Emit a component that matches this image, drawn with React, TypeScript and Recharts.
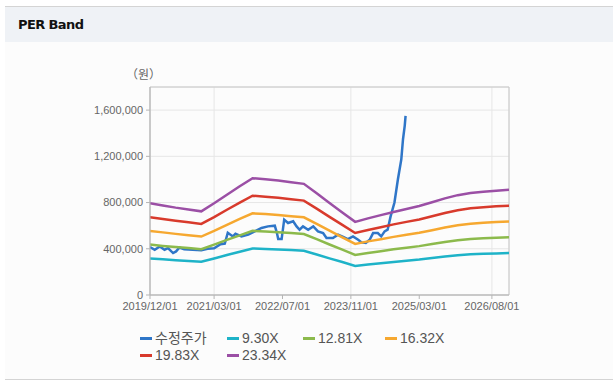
import React from "react";
import {
  LineChart,
  Line,
  XAxis,
  YAxis,
  CartesianGrid,
  Legend,
  ReferenceArea,
} from "recharts";

// x axis is months counted from 2019/12
const tickMonths = [0, 15, 31, 47, 63, 80];
const tickLabels = ["2019/12/01", "2021/03/01", "2022/07/01", "2023/11/01", "2025/03/01", "2026/08/01"];
const yTicks = [0, 400000, 800000, 1200000, 1600000];

const bandMonths = [0, 3, 6, 9, 12, 15, 18, 21, 24, 27, 30, 33, 36, 39, 42, 45, 48, 51, 54, 57, 60, 63, 66, 69, 72, 75, 78, 81, 84];
const band930 = [316000, 309000, 301000, 295000, 288000, 316000, 346000, 375000, 403000, 399000, 394000, 389000, 383000, 351000, 317000, 285000, 252000, 264000, 275000, 286000, 297000, 307000, 320000, 333000, 344000, 352000, 356000, 360000, 363000];
const band1281 = [436000, 425000, 415000, 406000, 397000, 436000, 477000, 516000, 555000, 550000, 543000, 536000, 528000, 483000, 437000, 392000, 347000, 364000, 379000, 395000, 409000, 423000, 441000, 459000, 474000, 484000, 491000, 496000, 500000];
const band1632 = [555000, 542000, 529000, 517000, 506000, 555000, 607000, 658000, 707000, 700000, 692000, 682000, 672000, 615000, 557000, 499000, 442000, 464000, 483000, 503000, 521000, 539000, 561000, 584000, 604000, 617000, 625000, 632000, 637000];
const band1983 = [674000, 658000, 643000, 629000, 615000, 674000, 738000, 799000, 859000, 851000, 841000, 829000, 817000, 748000, 676000, 607000, 537000, 563000, 587000, 611000, 633000, 654000, 682000, 710000, 734000, 750000, 760000, 767000, 773000];
const band2334 = [794000, 775000, 756000, 740000, 724000, 794000, 868000, 941000, 1011000, 1001000, 990000, 976000, 962000, 880000, 796000, 714000, 633000, 663000, 691000, 719000, 745000, 770000, 803000, 836000, 864000, 882000, 894000, 903000, 910000];

const priceMonths = [0, 1.1, 2.3, 3.4, 4.2, 5.4, 6.1, 6.9, 8, 10, 12, 13.5, 15, 16.5, 17.5, 18.2, 19.4, 20, 21.4, 23, 24.5, 26.1, 27.6, 29.2, 29.7, 30, 30.8, 31.4, 32.3, 33.5, 34.3, 35, 35.8, 37, 38.2, 39.3, 40.5, 41.3, 42.8, 44, 45.2, 46.3, 47.5, 48.7, 49.5, 50.5, 51.4, 52.2, 53.3, 54.1, 54.9, 55.6, 56.3, 57.2, 58, 58.8, 59.2, 59.6, 59.8];
const priceValues = [415000, 391000, 420000, 391000, 406000, 363000, 377000, 411000, 395000, 392000, 388000, 400000, 405000, 440000, 445000, 539000, 507000, 530000, 507000, 522000, 551000, 580000, 594000, 600000, 536000, 484000, 484000, 652000, 623000, 638000, 594000, 565000, 594000, 565000, 594000, 551000, 536000, 493000, 493000, 522000, 502000, 484000, 507000, 478000, 455000, 450000, 478000, 536000, 536000, 507000, 551000, 565000, 680000, 800000, 1000000, 1174000, 1348000, 1464000, 1550000];

const bandData = bandMonths.map((m, i) => ({
  m,
  b930: band930[i],
  b1281: band1281[i],
  b1632: band1632[i],
  b1983: band1983[i],
  b2334: band2334[i],
}));
const priceData = priceMonths.map((m, i) => ({ m, price: priceValues[i] }));

const series = [
  { key: "price", name: "수정주가", color: "#2f76c8" },
  { key: "b930", name: "9.30X", color: "#1eb3c8" },
  { key: "b1281", name: "12.81X", color: "#8cba4c" },
  { key: "b1632", name: "16.32X", color: "#f6a830" },
  { key: "b1983", name: "19.83X", color: "#d83a2c" },
  { key: "b2334", name: "23.34X", color: "#9b4fa5" },
];

const font = "'Liberation Sans', Arial, 'Noto Sans CJK KR', sans-serif";

const LegendBox = () => (
  <div
    style={{
      display: "grid",
      gridTemplateColumns: "87px 76px 82px 80px",
      fontFamily: font,
      fontSize: 14,
      color: "#555",
      lineHeight: "17px",
    }}
  >
    {series.map((s) => (
      <div key={s.key} style={{ display: "flex", alignItems: "center", whiteSpace: "nowrap" }}>
        <span style={{ display: "inline-block", width: 12, height: 3, background: s.color, marginRight: 3 }} />
        <span>{s.name}</span>
      </div>
    ))}
  </div>
);

export default function App() {
  return (
    <div style={{ position: "absolute", left: 0, top: 0, width: 613, height: 385, background: "#fff" }}>
      <div style={{ position: "absolute", left: 5, top: 6, right: 0, height: 1, background: "#d4d4d4" }} />
      <div style={{ position: "absolute", left: 5, top: 7, right: 0, height: 35, background: "#eff2f6" }} />
      <div style={{ position: "absolute", left: 5, top: 42, right: 0, height: 337, background: "#fcfcfc" }} />
      <div style={{ position: "absolute", left: 5, top: 379, right: 0, height: 1, background: "#d4d4d4" }} />
      <div
        style={{
          position: "absolute",
          left: 18,
          top: 16,
          fontFamily: "'DejaVu Sans', sans-serif",
          fontWeight: "bold",
          fontSize: 13,
          letterSpacing: -0.6,
          lineHeight: "18px",
          color: "#111",
        }}
      >
        PER Band
      </div>
      <div
        style={{
          position: "absolute",
          left: 126,
          top: 65,
          fontFamily: "'Noto Sans CJK KR', sans-serif",
          fontSize: 12,
          color: "#666",
        }}
      >
        （원）
      </div>
      <div style={{ position: "absolute", left: 0, top: 45 }}>
        <LineChart
          width={613}
          height={335}
          data={bandData}
          margin={{ top: 42, right: 104, left: 0, bottom: 55 }}
        >
          <CartesianGrid stroke="#e6e6e6" />
          <XAxis
            dataKey="m"
            type="number"
            domain={[0, 84]}
            ticks={tickMonths}
            allowDataOverflow
            tickFormatter={(v: number) => tickLabels[tickMonths.indexOf(v)] ?? ""}
            height={30}
            tickSize={4}
            tickMargin={3}
            stroke="#b5b5b5"
            tick={{ fill: "#666", fontSize: 11, fontFamily: font }}
          />
          <YAxis
            domain={[0, 1800000]}
            ticks={yTicks}
            allowDataOverflow
            width={150}
            tickSize={4}
            tickMargin={3}
            stroke="#b5b5b5"
            tickFormatter={(v: number) => v.toLocaleString("en-US")}
            tick={{ fill: "#666", fontSize: 11, fontFamily: font }}
          />
          <ReferenceArea x1={0} x2={84} y1={0} y2={1800000} fill="none" stroke="#c8c8c8" />
          <Line
            data={priceData}
            dataKey="price"
            name="수정주가"
            stroke="#2f76c8"
            strokeWidth={2.5}
            dot={false}
            isAnimationActive={false}
          />
          {series.slice(1).map((s) => (
            <Line
              key={s.key}
              dataKey={s.key}
              name={s.name}
              stroke={s.color}
              strokeWidth={2.5}
              dot={false}
              isAnimationActive={false}
            />
          ))}
          <Legend
            layout="horizontal"
            verticalAlign="middle"
            align="center"
            wrapperStyle={{ top: 285, left: 140, width: 340 }}
            content={() => <LegendBox />}
          />
        </LineChart>
      </div>
    </div>
  );
}
